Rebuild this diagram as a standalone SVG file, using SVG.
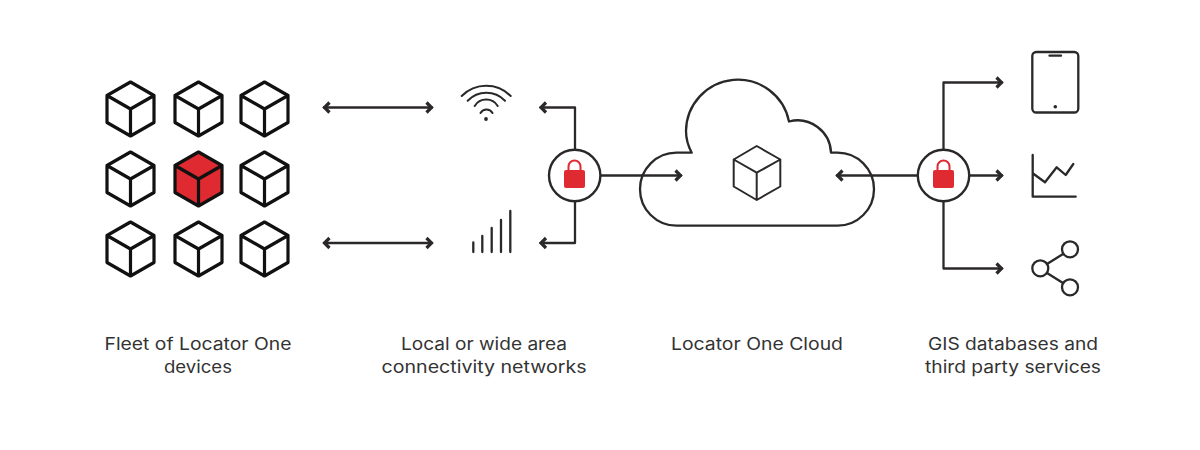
<svg xmlns="http://www.w3.org/2000/svg" width="1200" height="450" viewBox="0 0 1200 450">
<style>
.l{fill:none;stroke:#2b2829;stroke-width:2.3;stroke-linecap:round;stroke-linejoin:round}
.c{fill:none;stroke:#111;stroke-width:3.2;stroke-linejoin:round}
.r{fill:#de2a30}
.t{font-family:"Inter","Liberation Sans",sans-serif;font-size:17px;fill:#333;text-anchor:middle}
.b{fill:#fff;stroke:#2b2829;stroke-width:2.4}
</style>
<defs>
<path id="cube" d="M0 -27L23.5 -13.5V13.5L0 27L-23.5 13.5V-13.5ZM-23.5 -13.5L0 0L23.5 -13.5M0 0V27"/>
<marker id="ah" viewBox="-10 -8 12 16" markerWidth="12" markerHeight="16" refX="0" refY="0" orient="auto-start-reverse" markerUnits="userSpaceOnUse"><path d="M-5.5 -5L-0.5 0L-5.5 5" fill="none" stroke="#2b2829" stroke-width="3.2"/></marker>
</defs>
<rect width="1200" height="450" fill="#fff"/>
<g id="connectors" class="l">
<path d="M324 107.5H432" marker-start="url(#ah)" marker-end="url(#ah)"/>
<path d="M324 243H432" marker-start="url(#ah)" marker-end="url(#ah)"/>
<path d="M575 150V107.5H540.5" marker-end="url(#ah)"/>
<path d="M575 201V243H540.5" marker-end="url(#ah)"/>
<path d="M600 175.5H681" marker-end="url(#ah)"/>
<path d="M918 175.5H837" marker-end="url(#ah)"/>
<path d="M943.5 150V82.5H1002" marker-end="url(#ah)"/>
<path d="M969 175.5H1002" marker-end="url(#ah)"/>
<path d="M943.5 201V268.5H1002" marker-end="url(#ah)"/>
</g>
<g id="fleet" class="c">
<use href="#cube" x="130.5" y="109"/>
<use href="#cube" x="198.5" y="109"/>
<use href="#cube" x="264.5" y="109"/>
<use href="#cube" x="130.5" y="179"/>
<path class="r" stroke="none" d="M198.5 152L222 165.5V192.5L198.5 206L175 192.5V165.5Z"/>
<use href="#cube" x="198.5" y="179"/>
<use href="#cube" x="264.5" y="179"/>
<use href="#cube" x="130.5" y="249"/>
<use href="#cube" x="198.5" y="249"/>
<use href="#cube" x="264.5" y="249"/>
</g>
<g id="wifi" class="l">
<path d="M461.7 96A34.3 34.3 0 0 1 510.7 96M467.7 100.7A25.7 25.7 0 0 1 505 100.7M474.7 106A13.5 13.5 0 0 1 497.7 106M480.5 113A7 7 0 0 1 492.5 113" stroke-width="2"/>
<circle cx="486" cy="119" r="1.9" fill="#2b2829" stroke="none"/>
</g>
<g id="signal" class="l">
<path d="M473.3 252V242.5M482.3 252V236M491.7 252V228M501 252V220M510.3 252V211"/>
</g>
<g id="lock-left">
<circle class="b" cx="574.7" cy="175.5" r="25.7"/>
<rect class="r" x="564" y="170" width="21" height="18" rx="2"/>
<path d="M568.5 171V166.5a6 6 0 0 1 12 0V171" fill="none" stroke="#de2a30" stroke-width="2"/>
</g>
<g id="cloud" class="l">
<path d="M691.7 152.7H676.5A36.5 36.5 0 0 0 676.5 225.7H837.5A36.5 36.5 0 0 0 837.5 152.7H831A33.5 33.5 0 0 0 789 121.5A52 52 0 0 0 686 131Q686 142 691.7 152.7Z"/>
<path d="M756.7 146L780.3 159.5V186.5L756.7 200L733.7 186.5V159.5ZM733.7 159.5L756.7 172.7L780.3 159.5M756.7 172.7V200" stroke-width="2"/>
</g>
<g id="lock-right">
<circle class="b" cx="943.5" cy="175.5" r="25.7"/>
<rect class="r" x="933" y="170" width="21" height="18" rx="2"/>
<path d="M937.5 171V166.5a6 6 0 0 1 12 0V171" fill="none" stroke="#de2a30" stroke-width="2"/>
</g>
<g id="tablet" class="l">
<rect x="1032.3" y="52" width="46" height="60.5" rx="4"/>
<path d="M1049.5 55.7H1061"/>
<circle cx="1055.3" cy="106.7" r="1.8" fill="#2b2829" stroke="none"/>
</g>
<g id="chart" class="l">
<path d="M1032.7 155V196.7H1075.7M1032.7 173.3L1045 182.3L1056.7 167.3L1065.7 175L1073.3 164"/>
</g>
<g id="share" class="l">
<circle cx="1070" cy="249.3" r="8"/>
<circle cx="1040.3" cy="268.3" r="8"/>
<circle cx="1070" cy="287.3" r="8"/>
<path d="M1047 264L1063 254M1047 273L1063 283"/>
</g>
<g id="labels" class="t">
<text x="198" y="349.5" textLength="187" lengthAdjust="spacingAndGlyphs">Fleet of Locator One</text>
<text x="198" y="372.5" textLength="68" lengthAdjust="spacingAndGlyphs">devices</text>
<text x="484" y="349.5" textLength="166" lengthAdjust="spacingAndGlyphs">Local or wide area</text>
<text x="484" y="372.5" textLength="205" lengthAdjust="spacingAndGlyphs">connectivity networks</text>
<text x="757" y="349.5" textLength="172" lengthAdjust="spacingAndGlyphs">Locator One Cloud</text>
<text x="1013" y="349.5" textLength="170" lengthAdjust="spacingAndGlyphs">GIS databases and</text>
<text x="1013" y="372.5" textLength="176" lengthAdjust="spacingAndGlyphs">third party services</text>
</g>
</svg>
